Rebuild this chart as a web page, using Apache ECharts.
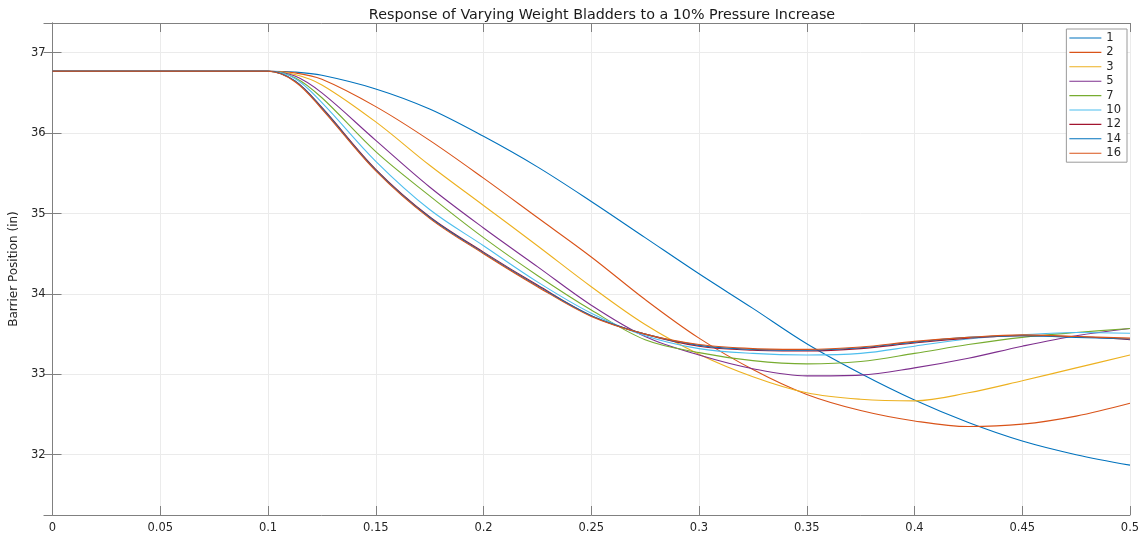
<!DOCTYPE html>
<html>
<head>
<meta charset="utf-8">
<script src="https://cdn.jsdelivr.net/npm/echarts@6/dist/echarts.min.js"></script>
<style>
html,body{margin:0;padding:0;background:#fff;}
#chart{width:1143px;height:537px;}
</style>
</head>
<body>
<div id="chart"></div>
<script>
var titleText = 'Response of Varying Weight Bladders to a 10% Pressure Increase';
var yName = 'Barrier Position (in)';
var time = [0, 0.1, 0.1125, 0.125, 0.15, 0.175, 0.2, 0.225, 0.25, 0.275, 0.3, 0.325, 0.35, 0.375, 0.4, 0.425, 0.45, 0.475, 0.5];
var seriesNames = ['1', '2', '3', '5', '7', '10', '12', '14', '16'];
var s1  = [36.77, 36.77, 36.76, 36.72, 36.55, 36.30, 35.96, 35.58, 35.15, 34.70, 34.25, 33.82, 33.38, 33.01, 32.68, 32.40, 32.17, 32.00, 31.87];
var s2  = [36.77, 36.77, 36.75, 36.67, 36.33, 35.91, 35.44, 34.95, 34.46, 33.93, 33.45, 33.06, 32.75, 32.55, 32.42, 32.35, 32.38, 32.48, 32.64];
var s3  = [36.77, 36.77, 36.73, 36.60, 36.14, 35.60, 35.10, 34.60, 34.09, 33.62, 33.25, 32.97, 32.77, 32.69, 32.67, 32.77, 32.92, 33.08, 33.24];
var s5  = [36.77, 36.77, 36.71, 36.50, 35.91, 35.33, 34.82, 34.34, 33.86, 33.47, 33.24, 33.07, 32.98, 32.99, 33.08, 33.20, 33.35, 33.48, 33.57];
var s7  = [36.77, 36.77, 36.69, 36.44, 35.77, 35.22, 34.70, 34.23, 33.80, 33.43, 33.27, 33.17, 33.13, 33.16, 33.26, 33.37, 33.46, 33.52, 33.57];
var s10 = [36.77, 36.77, 36.68, 36.38, 35.65, 35.05, 34.60, 34.15, 33.76, 33.48, 33.32, 33.26, 33.24, 33.26, 33.35, 33.44, 33.49, 33.52, 33.51];
var s12 = [36.77, 36.77, 36.65, 36.32, 35.55, 34.96, 34.52, 34.11, 33.73, 33.50, 33.35, 33.30, 33.29, 33.32, 33.39, 33.45, 33.48, 33.47, 33.43];
var s14 = [36.77, 36.77, 36.65, 36.31, 35.54, 34.95, 34.51, 34.10, 33.73, 33.50, 33.36, 33.31, 33.30, 33.33, 33.40, 33.46, 33.48, 33.46, 33.44];
var s16 = [36.77, 36.77, 36.64, 36.30, 35.53, 34.94, 34.50, 34.09, 33.72, 33.50, 33.37, 33.32, 33.31, 33.34, 33.41, 33.46, 33.49, 33.47, 33.45];
var allValues = [s1, s2, s3, s5, s7, s10, s12, s14, s16];
var colors = ['#0072BD', '#D95319', '#EDB120', '#7E2F8E', '#77AC30', '#4DBEEE', '#A2142F', '#0072BD', '#D95319'];

var font = 'DejaVu Sans';
var axisGray = '#808080';
var gridGray = '#ebebeb';
var textCol = '#262626';

function pairs(vals) {
  return vals.map(function (v, i) { return [time[i], v]; });
}

var series = seriesNames.map(function (n, i) {
  return {
    name: n,
    type: 'line',
    data: pairs(allValues[i]),
    smooth: 0.35,
    showSymbol: false,
    symbol: 'none',
    lineStyle: { width: 1.1, color: colors[i] },
    itemStyle: { color: colors[i] },
    xAxisIndex: 0,
    yAxisIndex: 0,
    animation: false,
    z: 2 + i
  };
});

var chart = echarts.init(document.getElementById('chart'), null, { renderer: 'canvas' });
chart.setOption({
  animation: false,
  backgroundColor: '#ffffff',
  title: {
    text: titleText,
    left: 597,
    textAlign: 'center',
    top: 3,
    textStyle: { fontFamily: font, fontSize: 14.3, fontWeight: 'normal', color: '#1a1a1a' }
  },
  grid: { left: 49, right: 13, top: 23, bottom: 22, containLabel: false },
  legend: {
    data: seriesNames,
    orient: 'vertical',
    right: 16,
    top: 29,
    itemWidth: 32,
    itemHeight: 10,
    itemGap: 2.4,
    padding: [3, 6, 3, 3],
    borderColor: '#9a9a9a',
    borderWidth: 1,
    backgroundColor: '#ffffff',
    icon: 'path://M0,0 L1,0 L1,0.035 L0,0.035 Z',
    textStyle: { fontFamily: font, fontSize: 11.5, lineHeight: 12, color: textCol, padding: [0, 0, 0, 0] }
  },
  xAxis: [{
    type: 'value',
    min: 0,
    max: 0.5,
    interval: 0.05,
    position: 'bottom',
    axisLine: { show: true, lineStyle: { color: axisGray, width: 1 } },
    axisTick: { show: true, inside: true, length: 9, lineStyle: { color: axisGray } },
    axisLabel: { fontFamily: font, fontSize: 11.5, color: textCol, margin: 7 },
    splitLine: { show: true, lineStyle: { color: gridGray, width: 1 } }
  }, {
    type: 'value',
    min: 0,
    max: 0.5,
    interval: 0.05,
    position: 'top',
    axisLine: { show: true, lineStyle: { color: axisGray, width: 1 } },
    axisTick: { show: true, inside: true, length: 9, lineStyle: { color: axisGray } },
    axisLabel: { show: false },
    splitLine: { show: false }
  }],
  yAxis: [{
    type: 'value',
    min: 31.25,
    max: 37.37,
    splitNumber: 6,
    position: 'left',
    name: yName,
    nameLocation: 'middle',
    nameGap: 29,
    nameTextStyle: { fontFamily: font, fontSize: 12, color: textCol },
    axisLine: { show: true, lineStyle: { color: axisGray, width: 1 } },
    axisTick: { show: true, inside: true, length: 9, lineStyle: { color: axisGray } },
    axisLabel: {
      fontFamily: font, fontSize: 11.5, color: textCol, margin: 7,
      showMinLabel: false, showMaxLabel: false,
      formatter: function (v) { return Math.abs(v - Math.round(v)) < 1e-6 ? String(Math.round(v)) : ''; }
    },
    splitLine: { show: true, lineStyle: { color: gridGray, width: 1 } }
  }, {
    type: 'value',
    min: 31.25,
    max: 37.37,
    splitNumber: 6,
    position: 'right',
    axisLine: { show: true, lineStyle: { color: axisGray, width: 1 } },
    axisTick: { show: true, inside: true, length: 9, lineStyle: { color: axisGray } },
    axisLabel: { show: false },
    splitLine: { show: false }
  }],
  series: series
});
</script>
</body>
</html>
